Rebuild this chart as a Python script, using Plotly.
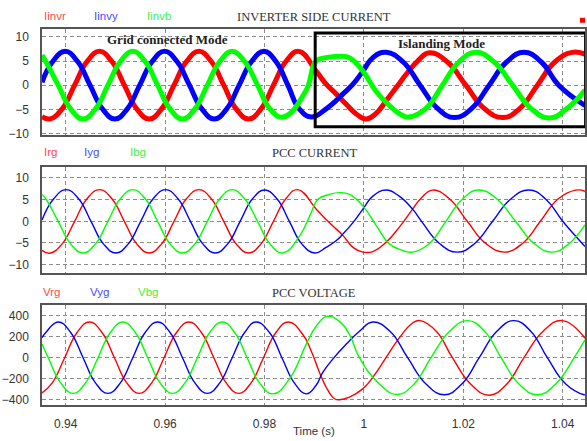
import plotly.graph_objects as go

# ---------------- data ----------------
# Inverter side current
t_iinvr = [0.93524, 0.9368, 0.9393, 0.9418, 0.9443, 0.9468, 0.9493, 0.9518, 0.9543, 0.9568, 0.9593, 0.9618,
           0.9643, 0.9668, 0.9693, 0.9718, 0.9743, 0.9768, 0.9793, 0.9818, 0.9843, 0.9869,
           0.9904, 0.9924, 0.9944, 0.9964, 0.9984, 1.0004, 1.0024, 1.0045, 1.0065, 1.0085, 1.0108, 1.0132,
           1.0168, 1.0205, 1.0242, 1.0279, 1.0314, 1.0349, 1.0384, 1.0419, 1.04448]
iinvr = [-6.5, -7.0, -4.9, 0, 4.9, 7.0, 4.9, 0, -4.9, -7.0, -4.9, 0,
         4.9, 7.0, 4.9, 0, -4.9, -7.0, -4.9, 0, 4.9, 7.0,
         2.9, 0.2, -1.8, -3.9, -5.9, -7.0, -5.9, -3.2, -0.5, 2.25, 5.0, 6.7,
         4.8, 0, -4.8, -6.7, -4.8, 0, 4.8, 6.8, 6.4]

t_iinvy = [0.93524, 0.9374, 0.9399, 0.9424, 0.9449, 0.9474, 0.9499, 0.9524, 0.9549, 0.9574, 0.9599, 0.9624,
           0.9649, 0.9674, 0.9699, 0.9724, 0.9749, 0.9774, 0.9799, 0.9823, 0.9847, 0.9870, 0.9894,
           0.9924, 0.9944, 0.9958, 0.9978, 0.9998, 1.0018, 1.0045,
           1.0079, 1.0113, 1.0148, 1.0182, 1.0217, 1.0252, 1.0287, 1.0322, 1.0357, 1.0392, 1.04448]
iinvy = [0.6, 4.9, 7.0, 4.9, 0, -4.9, -7.0, -4.9, 0, 4.9, 7.0, 4.9,
         0, -4.9, -7.0, -4.9, 0, 4.9, 7.0, 4.9, 0, -4.9, -6.6,
         -4.9, -3.2, -1.8, 0.2, 2.9, 5.7, 6.8,
         4.8, 0, -4.8, -6.7, -4.8, 0, 4.8, 6.8, 4.8, 0, -4.2]

t_iinvb = [0.93524, 0.9360, 0.9385, 0.9410, 0.9435, 0.9460, 0.9485, 0.9510, 0.9535, 0.9560, 0.9585, 0.9610,
           0.9635, 0.9660, 0.9685, 0.9710, 0.9735, 0.9760, 0.9786, 0.9811, 0.9837,
           0.9883, 0.9904, 0.9924, 0.9951, 0.9971, 0.9998, 1.0024, 1.0051, 1.0078, 1.0091,
           1.0125, 1.0158, 1.0191, 1.0225, 1.0262, 1.0299, 1.0336, 1.0373, 1.0409, 1.04448]
iinvb = [6.2, 4.9, 0, -4.9, -7.0, -4.9, 0, 4.9, 7.0, 4.9, 0, -4.9,
         -7.0, -4.9, 0, 4.9, 7.0, 4.9, 0, -4.9, -6.6,
         -1.2, 5.0, 5.7, 6.0, 5.7, 2.9, -1.2, -4.2, -6.3, -6.6,
         -4.8, 0, 4.8, 6.8, 4.8, 0, -4.8, -6.8, -4.8, -1.0]

# PCC current
t_irg = [0.93524, 0.9368, 0.9393, 0.9418, 0.9443, 0.9468, 0.9493, 0.9518, 0.9543, 0.9568, 0.9593, 0.9618,
         0.9643, 0.9668, 0.9693, 0.9718, 0.9743, 0.9768, 0.9793, 0.9818, 0.9843, 0.9867,
         0.9904, 0.9917, 0.9937, 0.9958, 0.9978, 0.9998, 1.0018, 1.0045, 1.0071, 1.0098, 1.0115, 1.0138,
         1.0173, 1.0208, 1.0245, 1.0283, 1.0319, 1.0355, 1.0390, 1.0426, 1.04448]
irg = [-6.7, -7.35, -5.2, 0, 5.2, 7.3, 5.2, 0, -5.2, -7.3, -5.2, 0,
       5.2, 7.3, 5.2, 0, -5.2, -7.3, -5.2, 0, 5.2, 7.3,
       2.8, 1.25, -1.0, -3.3, -6.0, -7.1, -7.0, -4.8, -1.4, 2.8, 5.3, 7.2,
       5.1, 0, -5.1, -7.1, -5.1, 0, 5.1, 7.2, 6.9]

t_iyg = [0.93524, 0.9376, 0.9401, 0.9426, 0.9451, 0.9476, 0.9501, 0.9526, 0.9551, 0.9576, 0.9601, 0.9626,
         0.9651, 0.9676, 0.9701, 0.9726, 0.9751, 0.9776, 0.9800, 0.9825, 0.9850, 0.9875, 0.9901,
         0.9924, 0.9944, 0.9958, 0.9978, 0.9998, 1.0018, 1.0045, 1.0071, 1.0098, 1.0116,
         1.0152, 1.0188, 1.0223, 1.0259, 1.0295, 1.0332, 1.0366, 1.0400, 1.04448]
iyg = [0.3, 5.2, 7.3, 5.2, 0, -5.2, -7.3, -5.2, 0, 5.2, 7.3, 5.2,
       0, -5.2, -7.3, -5.2, 0, 5.2, 7.2, 5.2, 0, -5.2, -7.3,
       -6.0, -4.5, -2.9, -0.3, 2.8, 5.8, 7.2, 5.8, 2.8, 0,
       -5.1, -7.1, -5.1, 0, 5.1, 7.2, 5.1, 0, -5.8]

t_ibg = [0.93524, 0.9360, 0.9385, 0.9410, 0.9435, 0.9460, 0.9485, 0.9510, 0.9535, 0.9560, 0.9585, 0.9610,
         0.9635, 0.9660, 0.9685, 0.9710, 0.9735, 0.9760, 0.9786, 0.9811, 0.9837,
         0.9871, 0.9894, 0.9907, 0.9931, 0.9951, 0.9971, 0.9998, 1.0025, 1.0051, 1.0078, 1.0098,
         1.0132, 1.0165, 1.0198, 1.0231, 1.0268, 1.0305, 1.0342, 1.0379, 1.0413, 1.04448]
ibg = [6.2, 5.2, 0, -5.2, -7.3, -5.2, 0, 5.2, 7.3, 5.2, 0, -5.2,
       -7.3, -5.2, 0, 5.2, 7.3, 5.2, 0, -5.2, -7.3,
       -3.3, 2.0, 5.05, 6.2, 6.6, 6.2, 3.5, -1.0, -5.2, -6.7, -7.1,
       -5.1, 0, 5.1, 7.2, 5.1, 0, -5.1, -7.1, -5.1, -0.8]

# PCC voltage
t_vrg = [0.93524, 0.9373, 0.9398, 0.9423, 0.9448, 0.9473, 0.9498, 0.9523, 0.9548, 0.9573, 0.9598, 0.9623,
         0.9648, 0.9673, 0.9698, 0.9723, 0.9748, 0.9773, 0.9798, 0.9823, 0.9848, 0.98771,
         0.98940, 0.99107, 0.99241, 0.99408, 0.99508, 0.99709, 0.99976, 1.00177, 1.00445, 1.00713, 1.00980,
         1.0113, 1.0146, 1.0178, 1.0215, 1.0252, 1.0287, 1.0322, 1.0360, 1.0399, 1.04448]
vrg = [-335, -240, 0, 240, 340, 240, 0, -240, -340, -240, 0, 240,
       340, 240, 0, -240, -340, -240, 0, 240, 340, 221,
       64, -140, -281, -391, -400, -375, -297, -187, 0, 189, 330,
       353, 250, 0, -252, -357, -252, 0, 250, 353, 185]

t_vyg = [0.93524, 0.9360, 0.9385, 0.9410, 0.9435, 0.9460, 0.9485, 0.9510, 0.9535, 0.9560, 0.9585, 0.9610,
         0.9635, 0.9660, 0.9685, 0.9710, 0.9735, 0.9760, 0.9783, 0.9810, 0.9835, 0.9860, 0.9884,
         0.99035, 0.99173, 0.99374, 0.99642, 0.99910, 1.00177,
         1.0053, 1.0088, 1.0125, 1.0162, 1.0197, 1.0232, 1.0267, 1.0302, 1.0336, 1.0369, 1.0406, 1.0443, 1.04448]
vyg = [190, 240, 340, 240, 0, -240, -340, -240, 0, 240, 340, 240,
       0, -240, -340, -240, 0, 240, 340, 240, 0, -240, -344,
       -265, -140, -14, 127, 252, 340,
       250, 0, -250, -353, -250, 0, 250, 353, 250, 0, -250, -353, -353]

t_vbg = [0.93524, 0.9365, 0.9390, 0.9415, 0.9440, 0.9465, 0.9490, 0.9515, 0.9540, 0.9565, 0.9590, 0.9615,
         0.9640, 0.9665, 0.9690, 0.9715, 0.9740, 0.9765, 0.9790, 0.9817,
         0.98504, 0.98839, 0.99040, 0.99253, 0.99508, 0.99709, 0.99910, 1.00311, 1.00665,
         1.0101, 1.0135, 1.0172, 1.0209, 1.0243, 1.0276, 1.0312, 1.0349, 1.0386, 1.0423, 1.04448]
vbg = [130, 0, -240, -340, -240, 0, 240, 340, 240, 0, -240, -340,
       -240, 0, 240, 340, 240, 0, -240, -344,
       -202, 127, 299, 393, 346, 221, 0, -250, -350,
       -250, 0, 250, 353, 250, 0, -250, -353, -250, 0, 170]

x_ticks = [0.94, 0.96, 0.98, 1.0, 1.02, 1.04]
x_tick_labels = ["0.94", "0.96", "0.98", "1", "1.02", "1.04"]
i_ticks = [-10, -5, 0, 5, 10]
v_ticks = [-400, -200, 0, 200, 400]

panel_titles = ["INVERTER SIDE CURRENT", "PCC CURRENT", "PCC VOLTAGE"]
panel_labels = [["Iinvr", "Iinvy", "Iinvb"], ["Irg", "Iyg", "Ibg"], ["Vrg", "Vyg", "Vbg"]]

# ---------------- styling ----------------
W, H = 587, 441
ML, MR = 42, 1
PW = W - ML - MR
RED, BLUE, GREEN = "#ff0000", "#0000ff", "#00ff00"
LBL = ["#ff4a4a", "#4a4aff", "#44ee44"]
XR = [0.93524, 1.04448]

def fx(p):
    return (p - ML) / PW

def fy(p):
    return 1 - p / H

domains = [[fy(136.7), fy(29.3)], [fy(275.7), fy(169.0)], [fy(409.3), fy(308.3)]]
yranges = [[-10.35, 11.64], [-11.82, 12.5], [-447, 503.5]]

fig = go.Figure()

series = [
    [(t_iinvr, iinvr, RED), (t_iinvy, iinvy, BLUE), (t_iinvb, iinvb, GREEN)],
    [(t_irg, irg, RED), (t_iyg, iyg, BLUE), (t_ibg, ibg, GREEN)],
    [(t_vrg, vrg, RED), (t_vyg, vyg, BLUE), (t_vbg, vbg, GREEN)],
]
widths = [5, 1.4, 1.4]

for k, grp in enumerate(series):
    xa = "x" if k == 0 else f"x{k+1}"
    ya = "y" if k == 0 else f"y{k+1}"
    for (tt, vv, c) in grp:
        fig.add_trace(go.Scatter(x=tt, y=vv, mode="lines", xaxis=xa, yaxis=ya,
                                 line=dict(color=c, width=widths[k], shape="spline", smoothing=1.3),
                                 showlegend=False, hoverinfo="skip"))

axis_common = dict(showline=True, mirror=True, linecolor="#555555", linewidth=1.5,
                   showgrid=True, gridcolor="#8c8c8c", griddash="4px,3px", gridwidth=1,
                   zeroline=False, ticks="", tickfont=dict(family="Liberation Sans, Arial", size=12, color="#333333"))

layout = dict(width=W, height=H, margin=dict(l=ML, r=MR, t=0, b=0),
              plot_bgcolor="white", paper_bgcolor="white", showlegend=False)

for k in range(3):
    sx = "" if k == 0 else str(k + 1)
    layout["xaxis" + sx] = dict(axis_common, range=XR, tickvals=x_ticks, ticktext=x_tick_labels,
                                showticklabels=(k == 2), anchor="y" + sx, ticklabelstandoff=7)
    if k > 0:
        layout["xaxis" + sx]["matches"] = "x"
    layout["yaxis" + sx] = dict(axis_common, range=yranges[k], domain=domains[k], anchor="x" + sx,
                                tickvals=(v_ticks if k == 2 else i_ticks), ticklabelstandoff=9)
fig.update_layout(**layout)

# titles and colored labels
title_y = [17, 155, 296]
label_x = [[42, 92.5, 145.5], [42, 82.5, 128.5], [41, 88, 136.5]]
ann = []
for k in range(3):
    ann.append(dict(text=panel_titles[k], x=fx(315), y=fy(title_y[k]), xref="paper", yref="paper",
                    showarrow=False, xanchor="center", yanchor="middle",
                    font=dict(family="Liberation Serif, Times New Roman", size=12.5, color="#333333")))
    for j in range(3):
        ann.append(dict(text=panel_labels[k][j], x=fx(label_x[k][j]), y=fy(title_y[k] - 1), xref="paper",
                        yref="paper", showarrow=False, xanchor="left", yanchor="middle",
                        font=dict(family="Liberation Sans, Arial", size=11.5, color=LBL[j])))

ann.append(dict(text="<b>Grid connected Mode</b>", x=fx(168), y=fy(40), xref="paper", yref="paper",
                showarrow=False, xanchor="center", yanchor="middle",
                font=dict(family="Liberation Serif, Times New Roman", size=13, color="#222222")))
ann.append(dict(text="<b>Islanding Mode</b>", x=fx(442), y=fy(44.5), xref="paper", yref="paper",
                showarrow=False, xanchor="center", yanchor="middle",
                font=dict(family="Liberation Serif, Times New Roman", size=13, color="#222222")))
ann.append(dict(text="Time (s)", x=fx(315), y=fy(436), xref="paper", yref="paper",
                showarrow=False, xanchor="center", yanchor="middle",
                font=dict(family="Liberation Sans, Arial", size=11.5, color="#333333")))
fig.update_layout(annotations=ann)

shapes = [
    dict(type="rect", xref="x", yref="y", x0=0.9902, x1=1.0446, y0=-8.63, y1=10.82,
         line=dict(color="black", width=3)),
    dict(type="rect", xref="paper", yref="paper", x0=fx(581), x1=fx(586), y0=fy(23), y1=fy(18),
         fillcolor=RED, line=dict(width=0)),
]
fig.update_layout(shapes=shapes)

fig.write_html("out.html")
